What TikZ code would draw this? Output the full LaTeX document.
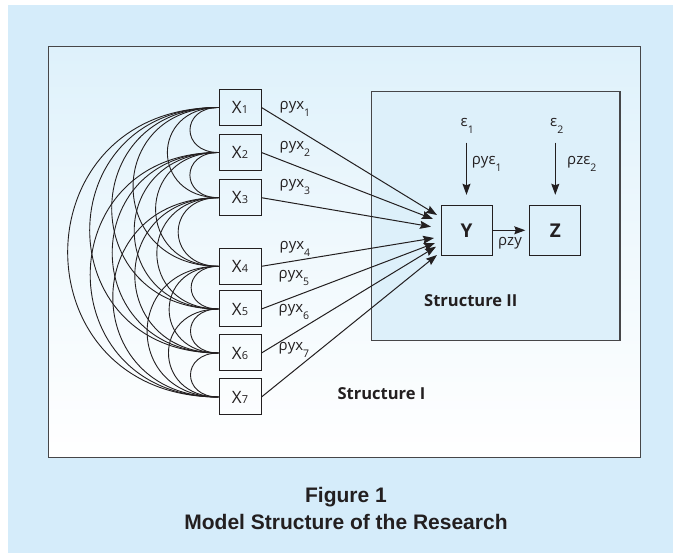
\documentclass[tikz,border=0pt]{standalone}
\usepackage{fontspec}
\setmainfont{Open Sans}
\newfontfamily\capfont{Liberation Sans}
\usetikzlibrary{arrows.meta,calc}
\definecolor{outerbg}{RGB}{213,236,250}
\definecolor{paneltop}{RGB}{222,241,251}
\definecolor{sfill}{RGB}{221,240,250}
\definecolor{ink}{RGB}{35,31,32}
\definecolor{framec}{RGB}{70,70,72}
\newcommand\subx[1]{\raisebox{-0.42em}{\fontsize{10.5}{10.5}\selectfont #1}}
\newcommand\xsub[1]{{\fontsize{11}{11}\selectfont #1}}
\begin{document}
\begin{tikzpicture}[x=1pt,y=-1pt,
  xbox/.style={draw=ink, line width=1pt, minimum width=42pt, minimum height=36pt, inner sep=0pt, font=\fontsize{17}{17}\selectfont, text=ink},
  ybox/.style={draw=ink, line width=1pt, fill=sfill, minimum width=51pt, minimum height=50pt, inner sep=0pt, font=\bfseries\fontsize{19}{19}\selectfont, text=ink},
  lbl/.style={anchor=base west, inner sep=0pt, font=\fontsize{15}{15}\selectfont, text=ink},
  title/.style={anchor=base, inner sep=0pt, font=\bfseries\fontsize{16.5}{16.5}\selectfont, text=ink},
  captxt/.style={anchor=base, inner sep=0pt, font=\capfont\bfseries\fontsize{21}{21}\selectfont, text=ink},
  arr/.style={draw=ink, line width=1pt, -{Stealth[length=11pt,width=8pt,inset=1.5pt]}},
  corrarc/.style={draw=ink, line width=0.9pt},
]
\useasboundingbox (0,0) rectangle (673,553);
\fill[white] (0,0) rectangle (673,553);
\fill[outerbg] (8,5) rectangle (673,553);
% main panel
\shade[top color=paneltop, bottom color=white, middle color=paneltop!45!white] (48.3,46.7) rectangle (640.3,457.7);
\draw[framec, line width=1.4pt] (48.3,46.7) rectangle (640.3,457.7);
% structure II frame
\draw[draw=framec, fill=sfill, line width=1.2pt] (371.7,91.7) rectangle (620,340.7);

% X nodes
\node[xbox] (X1) at (240,107.5) {X\xsub{1}};
\node[xbox] (X2) at (240,152.5) {X\xsub{2}};
\node[xbox] (X3) at (240,197.7) {X\xsub{3}};
\node[xbox] (X4) at (240,266.3) {X\xsub{4}};
\node[xbox] (X5) at (240,309) {X\xsub{5}};
\node[xbox] (X6) at (240,353) {X\xsub{6}};
\node[xbox] (X7) at (240,397) {X\xsub{7}};

% correlation arcs
\def\ys{{107.5,152.5,197.7,266.3,309,353,397}}
\foreach \i in {1,...,6}{
  \pgfmathtruncatemacro\ni{\i+1}
  \foreach \j in {\ni,...,7}{
    \pgfmathsetmacro\cc{0.667*(\ys[\j-1]-\ys[\i-1])+8}
    \draw[corrarc] (X\i.west) .. controls +(-\cc,0) and +(-\cc,0) .. (X\j.west);
  }
}

% Y and Z
\node[ybox] (Y) at (466.5,230.3) {Y};
\node[ybox] (Z) at (555.3,230.3) {Z};

% arrow targets near Y
\coordinate (t1) at (437,215);
\coordinate (t2) at (433,219);
\coordinate (t3) at (431,226.7);
\coordinate (t4) at (434,238);
\coordinate (t5) at (435,243);
\coordinate (t6) at (436,246.7);
\coordinate (t7) at (437,255);
\foreach \k in {1,...,7}{
  \draw[arr] (X\k.east) -- (t\k);
}

% path labels
\node[lbl] (l1) at (279.5,110) {ρyx\subx{1}};
\node[lbl] (l2) at (279.5,150) {ρyx\subx{2}};
\node[lbl] (l3) at (279.5,188) {ρyx\subx{3}};
\node[lbl] (l4) at (279.5,250) {ρyx\subx{4}};
\node[lbl] (l5) at (278.5,279) {ρyx\subx{5}};
\node[lbl] (l6) at (278.5,313) {ρyx\subx{6}};
\node[lbl] (l7) at (278.5,351) {ρyx\subx{7}};

% error terms
\node[lbl] (e1) at (460.5,127) {ε\subx{1}};
\node[lbl] (e2) at (550,127) {ε\subx{2}};
\coordinate (e1s) at (466.5,142.7);
\coordinate (e2s) at (555.3,142.7);
\draw[arr, shorten >=10pt] (e1s) -- (Y.north);
\draw[arr, shorten >=10pt] (e2s) -- (Z.north);
\node[lbl] (le1) at (471.7,165) {ρyε\subx{1}};
\node[lbl] (le2) at (567,165) {ρzε\subx{2}};

% Y -> Z
\draw[arr, shorten >=4pt] (Y.east) -- (Z.west);
\node[lbl, anchor=base] (lzy) at (510,246) {ρzy};

% structure labels
\node[title] (s2) at (470.8,306.5) {Structure II};
\node[title] (s1) at (381.5,400) {Structure I};

% caption
\node[captxt] (c1) at (346,502.3) {Figure 1};
\node[captxt] (c2) at (346,529.3) {Model Structure of the Research};
\end{tikzpicture}
\end{document}
